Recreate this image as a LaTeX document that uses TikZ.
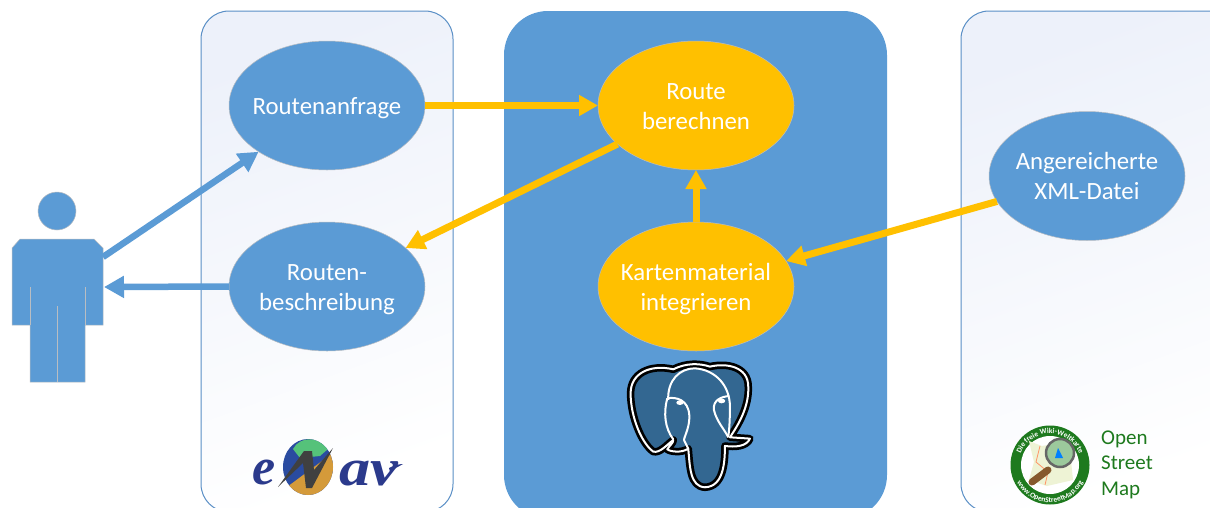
\documentclass[tikz,border=0pt]{standalone}
\usepackage{fontspec}
\setmainfont{Carlito}
\newfontfamily\logofont{Liberation Serif}
\usepackage{xcolor}
\usetikzlibrary{shapes.geometric, arrows.meta, decorations.text}
\definecolor{panelblue}{HTML}{5B9BD5}
\definecolor{paneledge}{HTML}{5A8FC6}
\definecolor{panelpale}{HTML}{EDF1FA}
\definecolor{panelmid}{HTML}{FBFCFE}
\definecolor{routegold}{HTML}{FFC000}
\definecolor{halogrey}{HTML}{B9BDC2}
\definecolor{elephant}{HTML}{336791}
\definecolor{osmgreen}{HTML}{1E7A1E}
\definecolor{osmmap}{HTML}{EEF3D5}
\definecolor{enavblue}{HTML}{2B3A8C}
\definecolor{enavgold}{HTML}{D49A3A}
\definecolor{enavglobe}{HTML}{2A4BA0}
\definecolor{enavland}{HTML}{55C27A}
\newcommand{\upstrut}[1]{\rule{0pt}{#1pt}}
\tikzset{
	usecase/.style = {ellipse, minimum width = 196pt, minimum height = 129pt, inner xsep = -12pt, inner ysep = 0pt, outer sep = 0pt,
		align = center, text = white, font = \fontsize{24.8}{30}\selectfont, draw = halogrey, line width = 0.5pt},
	bluecase/.style = {usecase, fill = panelblue},
	goldcase/.style = {usecase, fill = routegold},
	paleframe/.style = {draw = paneledge, line width = 1pt, rounded corners = 28pt, top color = panelpale, middle color = panelmid, bottom color = white, shading angle = 20},
	goldarrow/.style = {draw = routegold, line width = 7pt, -{Triangle[length = 19pt, width = 20pt]}},
	bluearrow/.style = {draw = panelblue, line width = 6.5pt, -{Triangle[length = 20pt, width = 21pt]}},
}
\begin{document}
\begin{tikzpicture}[x = 1pt, y = -1pt]
	\useasboundingbox (0, 0) rectangle (1210, 507);
	\fill[white] (0, 0) rectangle (1210, 507);
	% panels
	\path[paleframe] (201, 11) rectangle (453, 512);
	\path[paleframe] (961, 11) rectangle (1240, 512);
	\fill[panelblue, rounded corners = 44pt] (504, 11) rectangle (887, 519);
	% person
	\fill[panelblue, draw = halogrey, line width = 0.5pt] (57, 211) circle (19);
	\fill[panelblue, draw = halogrey, line width = 0.5pt] (20, 239) -- (94, 239) -- (103, 248) -- (103, 325) -- (85, 325) -- (85, 382)
		-- (30, 382) -- (30, 325) -- (12, 325) -- (12, 248) -- cycle;
	\draw[halogrey, line width = 0.7pt] (30, 287) -- (30, 325);
	\draw[halogrey, line width = 0.7pt] (85, 287) -- (85, 325);
	\draw[halogrey, line width = 0.7pt] (57, 306) -- (57, 382);
	\coordinate (personout) at (103, 257);
	\coordinate (personin) at (104, 287);
	% use cases
	\node[bluecase] (anfrage) at (327, 105.5) {\upstrut{23}Routenanfrage};
	\node[bluecase] (beschreibung) at (327, 286.5) {\upstrut{23}Routen-\\beschreibung};
	\node[goldcase] (route) at (696, 105.5) {\upstrut{18}Route\\berechnen};
	\node[goldcase] (karten) at (696, 286.5) {\upstrut{23}Kartenmaterial\\integrieren};
	\node[bluecase] (xmldatei) at (1087, 176) {Angereicherte\\XML-Datei};
	% connectors
	\draw[bluearrow] (personout) -- (anfrage);
	\draw[bluearrow] (beschreibung.west) -- (personin);
	\draw[goldarrow] (anfrage.east) -- (route.west);
	\draw[goldarrow] (route) -- (beschreibung);
	\draw[goldarrow] (karten.north) -- (route.south);
	\draw[goldarrow] (xmldatei) -- (karten);
	% enav logo
	\begin{scope}
		\clip (308, 467) ellipse (25 and 28);
		\fill[enavglobe] (279, 439) rectangle (335, 495);
		\fill[enavgold] (283, 490) -- (330, 455) -- (335, 448) -- (335, 495) -- (279, 495) -- cycle;
		\fill[enavland] (293, 449) .. controls (300, 436) and (318, 436) .. (328, 449) -- (320, 456) -- (300, 458) -- cycle;
	\end{scope}
	\fill[black!75] (278, 487) -- (304, 451) -- (312, 451) -- (314, 470) -- (333, 448) -- (312, 488) -- (306, 488) -- (303, 463) -- cycle;
	\node[text = enavblue, font = \logofont\bfseries\itshape\fontsize{52}{52}\selectfont, inner sep = 0pt] (enave) at (264, 472) {e};
	\node[text = enavblue, font = \logofont\bfseries\itshape\fontsize{52}{52}\selectfont, inner sep = 0pt, xscale = 1.2] (enavav) at (369, 474) {av};
	\fill[enavblue] (389, 468) .. controls (393, 466) and (398, 464) .. (403, 464) .. controls (398, 467) and (393, 469) .. (390, 472) -- cycle;
	% elephant logo
	\begin{scope}[x = 0.3333pt, y = -0.3333pt, shift = {(1830, 1050)}]
		\def\elephantshape{(62, 130) .. controls (62, 70) and (120, 42) .. (190, 58) .. controls (230, 38) and (270, 40) .. (300, 50)
			.. controls (350, 38) and (415, 50) .. (415, 110) .. controls (418, 170) and (385, 225) .. (360, 262) -- (420, 266)
			.. controls (410, 290) and (375, 292) .. (345, 288) .. controls (345, 340) and (340, 410) .. (285, 412)
			.. controls (240, 410) and (240, 350) .. (235, 296) .. controls (215, 310) and (180, 305) .. (172, 298)
			.. controls (180, 285) and (190, 280) .. (190, 270) .. controls (170, 285) and (150, 310) .. (130, 305)
			.. controls (95, 280) and (62, 200) .. (62, 130) -- cycle}
		\draw[black, line width = 7.5pt, fill = elephant, line join = round] \elephantshape;
		\draw[white, line width = 2pt, line join = round] \elephantshape;
		\draw[white, line width = 2pt] (175, 150) .. controls (172, 90) and (210, 55) .. (255, 55) .. controls (320, 60) and (360, 110) .. (360, 170)
			.. controls (360, 210) and (358, 240) .. (355, 262);
		\draw[white, line width = 2pt] (172, 145) .. controls (200, 140) and (235, 150) .. (238, 195) .. controls (240, 230) and (225, 255) .. (222, 270);
		\draw[white, line width = 2pt] (172, 145) .. controls (160, 190) and (165, 235) .. (190, 268);
		\draw[white, line width = 2pt] (358, 138) .. controls (335, 140) and (308, 150) .. (312, 180) .. controls (320, 215) and (345, 240) .. (355, 262);
		\draw[white, line width = 2pt] (222, 270) -- (235, 296);
		\fill[white] (210, 158) ellipse (11 and 7);
		\fill[white] (335, 153) ellipse (11 and 7);
	\end{scope}
	% osm logo
	\fill[osmgreen] (1050, 465) circle (39.5);
	\fill[white] (1050, 465) circle (29);
	\fill[osmmap] (1029, 441) -- (1042, 446) -- (1069, 441) -- (1073, 480) -- (1047, 486) -- (1029, 480) -- (1034, 462) -- cycle;
	\draw[red!40!orange!60, line width = 0.8pt] (1040, 446) -- (1036, 462) -- (1048, 472) -- (1045, 485);
	\fill[green!30!gray!60] (1060, 453) circle (14);
	\fill[blue!50!cyan] (1055, 458) -- (1058, 448) -- (1063, 458) -- cycle;
	\draw[black!60, line width = 2.5pt] (1060, 453) circle (14);
	\draw[brown!70!black, line width = 7pt, line cap = round] (1048, 470) -- (1032, 482);
	\path[postaction = {decorate, decoration = {text along path, text align = center,
		text = {|\fontsize{7.5}{7.5}\selectfont\bfseries\color{white}|Die freie Wiki-Weltkarte}}}]
		(1018.5, 465) arc[start angle = 180, end angle = 360, radius = 31.5];
	\path[postaction = {decorate, decoration = {text along path, text align = center,
		text = {|\fontsize{7.5}{7.5}\selectfont\bfseries\color{white}|www.OpenStreetMap.org}}}]
		(1012.5, 465) arc[start angle = 180, end angle = 0, radius = 37.5];
	\node[anchor = north west, inner sep = 0pt, align = left, text = osmgreen, font = \fontsize{21}{25.5}\selectfont] (osmtext) at (1101, 430.5) {Open\\Street\\Map};
\end{tikzpicture}
\end{document}
